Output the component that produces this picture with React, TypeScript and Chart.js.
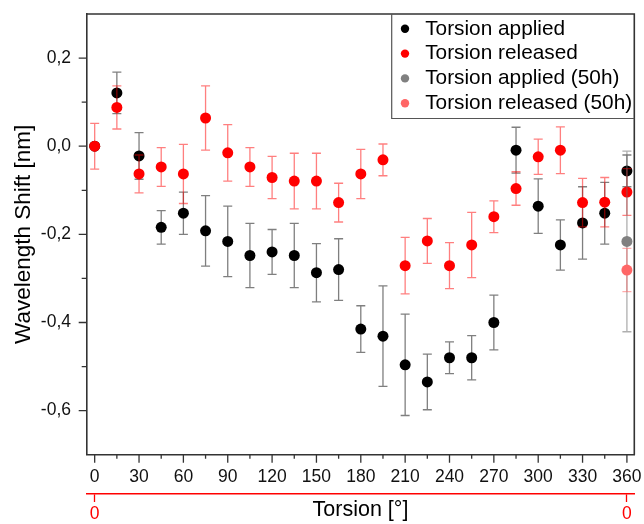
import React, { useEffect, useRef } from 'react';
import { Chart, registerables } from 'chart.js';

Chart.register(...registerables);

const FONT = "'Liberation Sans', Arial, Helvetica, sans-serif";

// ---- data ----
const torsionDeg = [0, 15, 30, 45, 60, 75, 90, 105, 120, 135, 150, 165, 180, 195, 210, 225, 240, 255, 270, 285, 300, 315, 330, 345, 360];
const appliedShift = [0, 0.121, -0.022, -0.184, -0.152, -0.192, -0.216, -0.248, -0.240, -0.248, -0.287, -0.280, -0.415, -0.431, -0.496, -0.535, -0.480, -0.480, -0.400, -0.009, -0.136, -0.224, -0.174, -0.152, -0.056];
const appliedErr = [0, 0.047, 0.053, 0.038, 0.048, 0.080, 0.080, 0.073, 0.051, 0.073, 0.066, 0.070, 0.053, 0.114, 0.115, 0.063, 0.036, 0.050, 0.062, 0.052, 0.062, 0.057, 0.082, 0.070, 0.036];
const releasedShift = [0, 0.088, -0.063, -0.047, -0.063, 0.064, -0.015, -0.047, -0.071, -0.079, -0.079, -0.128, -0.063, -0.031, -0.271, -0.215, -0.271, -0.224, -0.160, -0.096, -0.024, -0.009, -0.128, -0.127, -0.104];
const releasedErr = [0.052, 0.049, 0.043, 0.044, 0.067, 0.073, 0.064, 0.044, 0.048, 0.063, 0.063, 0.044, 0.056, 0.036, 0.064, 0.051, 0.052, 0.074, 0.036, 0.038, 0.040, 0.053, 0.055, 0.056, 0.053];
const applied50hDeg = [360];
const applied50hShift = [-0.216];
const applied50hErr = [0.205];
const released50hDeg = [360];
const released50hShift = [-0.281];
const released50hErr = [0.049];

const seriesLabels = ['Torsion applied', 'Torsion released', 'Torsion applied (50h)', 'Torsion released (50h)'];

const xTicks = [0, 15, 30, 45, 60, 75, 90, 105, 120, 135, 150, 165, 180, 195, 210, 225, 240, 255, 270, 285, 300, 315, 330, 345, 360];
const xLabelStep = 30;
const yMajorTicks = [-0.6, -0.4, -0.2, 0, 0.2];
const yMinorTicks = [-0.5, -0.3, -0.1, 0.1];
const secondaryTicks = [0, 360];
const secondaryTickLabels = ['0', '0'];

const xTitle = 'Torsion [°]';
const yTitle = 'Wavelength Shift [nm]';

const pts = (xs: number[], ys: number[]) => xs.map((x, i) => ({ x, y: ys[i] }));

const fmtY = (v: number) => {
  const r = Math.round(v * 10);
  if (r === 0) return '0,0';
  return (r / 10).toFixed(1).replace('.', ',');
};

const errorBarPlugin = {
  id: 'errorBars',
  beforeDatasetDraw(chart: any, args: any) {
    const ds: any = chart.data.datasets[args.index];
    const errs: number[] = ds.errors;
    if (!errs) return;
    const ys = chart.scales.y;
    const ctx = chart.ctx;
    ctx.save();
    ctx.strokeStyle = ds.errorColor;
    ctx.lineWidth = 1.3;
    args.meta.data.forEach((pt: any, i: number) => {
      const e = errs[i];
      if (!e) return;
      const raw = ds.data[i];
      const top = ys.getPixelForValue(raw.y + e);
      const bot = ys.getPixelForValue(raw.y - e);
      const x = pt.x;
      ctx.beginPath();
      ctx.moveTo(x, top);
      ctx.lineTo(x, bot);
      ctx.moveTo(x - 4.5, top);
      ctx.lineTo(x + 4.5, top);
      ctx.moveTo(x - 4.5, bot);
      ctx.lineTo(x + 4.5, bot);
      ctx.stroke();
    });
    ctx.restore();
  },
};

const framePlugin = {
  id: 'frameTicksLegend',
  afterDraw(chart: any) {
    const { ctx, chartArea: a, scales } = chart;
    ctx.save();
    // top & right frame
    ctx.strokeStyle = '#333';
    ctx.lineWidth = 1.6;
    ctx.beginPath();
    ctx.moveTo(a.left, a.top);
    ctx.lineTo(a.right, a.top);
    ctx.lineTo(a.right, a.bottom);
    ctx.stroke();
    // y ticks
    ctx.lineWidth = 1.3;
    ctx.beginPath();
    yMajorTicks.forEach((v) => {
      const p = scales.y.getPixelForValue(v);
      ctx.moveTo(a.left - 8, p);
      ctx.lineTo(a.left, p);
    });
    yMinorTicks.forEach((v) => {
      const p = scales.y.getPixelForValue(v);
      ctx.moveTo(a.left - 5, p);
      ctx.lineTo(a.left, p);
    });
    // x ticks
    xTicks.forEach((v) => {
      const p = scales.x.getPixelForValue(v);
      const len = v % xLabelStep === 0 ? 8 : 4;
      ctx.moveTo(p, a.bottom);
      ctx.lineTo(p, a.bottom + len);
    });
    ctx.stroke();

    // legend
    const lw = 242.6;
    const lh = 104.5;
    const left = a.right - lw;
    const top = a.top;
    ctx.strokeStyle = '#555';
    ctx.lineWidth = 1.2;
    ctx.beginPath();
    ctx.moveTo(left, top);
    ctx.lineTo(left, top + lh);
    ctx.lineTo(a.right, top + lh);
    ctx.stroke();
    ctx.font = `20.8px ${FONT}`;
    ctx.textBaseline = 'middle';
    ctx.textAlign = 'left';
    chart.data.datasets.forEach((ds: any, i: number) => {
      const cy = top + 14.8 + i * 24.8;
      ctx.fillStyle = ds.backgroundColor;
      ctx.beginPath();
      ctx.arc(left + 13.3, cy, 4.2, 0, Math.PI * 2);
      ctx.fill();
      ctx.fillStyle = '#000';
      ctx.fillText(ds.label, left + 33.5, cy);
    });
    ctx.restore();
  },
};

export default function App() {
  const ref = useRef<HTMLCanvasElement>(null);

  useEffect(() => {
    if (!ref.current) return;
    Chart.defaults.font.family = FONT;
    const chart = new Chart(ref.current, {
      type: 'scatter',
      data: {
        datasets: [
          {
            label: seriesLabels[0],
            data: pts(torsionDeg, appliedShift),
            errors: appliedErr,
            errorColor: 'rgba(0,0,0,0.5)',
            backgroundColor: '#000000',
            borderWidth: 0,
            pointRadius: 5.5,
            order: 4,
          } as any,
          {
            label: seriesLabels[1],
            data: pts(torsionDeg, releasedShift),
            errors: releasedErr,
            errorColor: 'rgba(255,0,0,0.5)',
            backgroundColor: '#ff0000',
            borderWidth: 0,
            pointRadius: 5.5,
            order: 3,
          } as any,
          {
            label: seriesLabels[2],
            data: pts(applied50hDeg, applied50hShift),
            errors: applied50hErr,
            errorColor: 'rgba(110,110,110,0.55)',
            backgroundColor: '#808080',
            borderWidth: 0,
            pointRadius: 5.5,
            order: 2,
          } as any,
          {
            label: seriesLabels[3],
            data: pts(released50hDeg, released50hShift),
            errors: released50hErr,
            errorColor: 'rgba(255,90,90,0.5)',
            backgroundColor: '#ff6666',
            borderWidth: 0,
            pointRadius: 5.5,
            order: 1,
          } as any,
        ],
      },
      options: {
        animation: false,
        responsive: false,
        devicePixelRatio: 1,
        layout: { padding: { top: 14, right: 9.7, left: 0, bottom: 0 } },
        plugins: {
          legend: { display: false },
          tooltip: { enabled: false },
        },
        scales: {
          x: {
            type: 'linear',
            position: 'bottom',
            min: -5.4,
            max: 365,
            weight: 0,
            afterBuildTicks: (s: any) => {
              s.ticks = xTicks.map((v) => ({ value: v }));
            },
            afterFit: (s: any) => {
              s.height = 39.3;
              s.paddingLeft = 0;
              s.paddingRight = 0;
            },
            grid: { display: false, drawTicks: false },
            border: { display: true, color: '#333', width: 1.6 },
            ticks: {
              autoSkip: false,
              maxRotation: 0,
              padding: 12.3,
              color: '#111',
              font: { size: 17.5 },
              callback: (v: any) => (Number(v) % xLabelStep === 0 ? String(v) : ''),
            },
          },
          x2: {
            type: 'linear',
            position: 'bottom',
            min: -5.4,
            max: 365,
            weight: 1,
            afterBuildTicks: (s: any) => {
              s.ticks = secondaryTicks.map((v) => ({ value: v }));
            },
            afterFit: (s: any) => {
              s.height = 30;
              s.paddingLeft = 0;
              s.paddingRight = 0;
            },
            grid: {
              display: true,
              drawOnChartArea: false,
              drawTicks: true,
              tickLength: 8,
              color: '#ff0000',
              tickColor: '#ff0000',
              tickWidth: 1.3,
            },
            border: { display: true, color: '#ff0000', width: 1.4 },
            ticks: {
              autoSkip: false,
              maxRotation: 0,
              padding: 1.8,
              color: '#ff0000',
              font: { size: 17.5 },
              callback: (_v: any, i: number) => secondaryTickLabels[i] ?? '',
            },
            title: {
              display: true,
              text: xTitle,
              color: '#000',
              font: { size: 21.5 },
              padding: { top: 0, bottom: 0.6 },
            },
          },
          y: {
            type: 'linear',
            min: -0.7,
            max: 0.3,
            afterBuildTicks: (s: any) => {
              s.ticks = [...yMajorTicks, ...yMinorTicks].sort((a, b) => a - b).map((v) => ({ value: v }));
            },
            afterFit: (s: any) => {
              s.width = 86.7;
              s.paddingTop = 0;
              s.paddingBottom = 0;
            },
            grid: { display: false, drawTicks: false },
            border: { display: true, color: '#333', width: 1.6 },
            ticks: {
              autoSkip: false,
              padding: 15.7,
              color: '#111',
              font: { size: 17.5 },
              callback: (v: any) => {
                const n = Number(v);
                return yMajorTicks.some((m) => Math.abs(m - n) < 1e-6) ? fmtY(n) : '';
              },
            },
            title: {
              display: true,
              text: yTitle,
              color: '#000',
              font: { size: 22.5 },
              padding: { top: 10, bottom: 0 },
            },
          },
        },
      } as any,
      plugins: [errorBarPlugin, framePlugin],
    });
    return () => chart.destroy();
  }, []);

  return (
    <div style={{ position: 'absolute', left: 0, top: 0, width: 644, height: 524, background: '#fff' }}>
      <canvas ref={ref} width={644} height={524} style={{ display: 'block' }} />
    </div>
  );
}
